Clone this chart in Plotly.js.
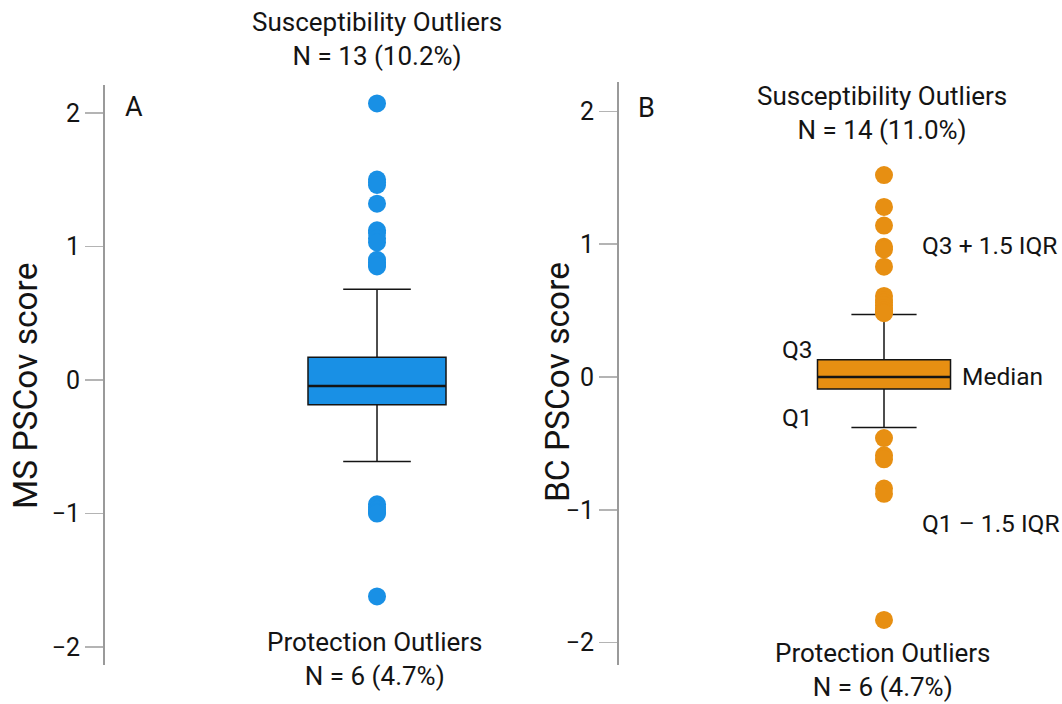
<!DOCTYPE html>
<html>
<head>
<meta charset="utf-8">
<script src="https://cdn.plot.ly/plotly-3.0.1.min.js"></script>
<style>
  html, body { margin: 0; padding: 0; background: #ffffff; }
  #chart { width: 1062px; height: 704px; }
</style>
</head>
<body>
<div id="chart"></div>
<script>
// Sample size shared by both scores
const N_TOTAL = 127;

// MS PSCov score: box summary and outliers
const msQuartiles = [-0.185, -0.045, 0.17];   // Q1, median, Q3
const msFences = [-0.61, 0.68];               // Q1 - 1.5 IQR, Q3 + 1.5 IQR
const msHigh = [2.07, 1.50, 1.48, 1.46, 1.32, 1.12, 1.10, 1.06, 1.03, 0.90, 0.88, 0.86, 0.85];
const msLow = [-0.93, -0.95, -0.97, -0.99, -1.00, -1.62];

// BC PSCov score: box summary and outliers
const bcQuartiles = [-0.09, 0.00, 0.13];
const bcFences = [-0.38, 0.47];
const bcHigh = [1.52, 1.28, 1.14, 0.98, 0.96, 0.83, 0.61, 0.58, 0.56, 0.54, 0.52, 0.50, 0.49, 0.48];
const bcLow = [-0.46, -0.59, -0.62, -0.84, -0.88, -1.83];

const yTicks = [-2, -1, 0, 1, 2];
const panelLetters = ['A', 'B'];
const axisTitles = ['MS PSCov score', 'BC PSCov score'];

const BLUE = '#1990e5';
const ORANGE = '#e78f12';
const INK = '#141414';
const FONT = 'Roboto, "Noto Sans", sans-serif';
const W = 1062, H = 704;
const BOX_W = 1;

const px = v => v / W;
const py = v => 1 - v / H;
const font = (size) => ({ family: FONT, size: size, color: INK });

function boxTrace(q, f, color, xa, ya) {
  return {
    type: 'box', x: [0], q1: [q[0]], median: [q[1]], q3: [q[2]],
    lowerfence: [f[0]], upperfence: [f[1]],
    width: BOX_W, whiskerwidth: 0.49, boxpoints: false,
    fillcolor: color, line: { color: INK, width: 1.5 },
    xaxis: xa, yaxis: ya, hoverinfo: 'skip', showlegend: false
  };
}

function outlierTrace(vals, color, xa, ya) {
  return {
    type: 'scatter', mode: 'markers',
    x: vals.map(() => 0), y: vals,
    marker: { size: 18, color: color, line: { width: 0 } },
    xaxis: xa, yaxis: ya, hoverinfo: 'y', showlegend: false
  };
}

const data = [
  boxTrace(msQuartiles, msFences, BLUE, 'x', 'y'),
  outlierTrace(msHigh.concat(msLow), BLUE, 'x', 'y'),
  boxTrace(bcQuartiles, bcFences, ORANGE, 'x2', 'y2'),
  outlierTrace(bcHigh.concat(bcLow), ORANGE, 'x2', 'y2')
];

function countText(label, arr) {
  return label + '<br>N = ' + arr.length + ' (' + (100 * arr.length / N_TOTAL).toFixed(1) + '%)';
}

const yAxisBase = {
  showline: true, linecolor: '#9a9a9a', linewidth: 2,
  ticks: 'outside', ticklen: 18, tickwidth: 1.5, tickcolor: '#b4b4b4',
  tickvals: yTicks, ticktext: yTicks.map(v => v < 0 ? '\u2212' + Math.abs(v) : String(v)),
  tickfont: font(25),
  showgrid: false, zeroline: false, fixedrange: true
};
const xAxisBase = {
  type: 'linear', showline: false, showticklabels: false, ticks: '',
  showgrid: false, zeroline: false, fixedrange: true
};

function note(text, x, y, opts) {
  return Object.assign({
    text: text, xref: 'paper', yref: 'paper', x: px(x), y: py(y),
    xanchor: 'center', yanchor: 'middle', showarrow: false,
    font: font(24.5)
  }, opts || {});
}

const layout = {
  width: W, height: H,
  margin: { l: 0, r: 0, t: 0, b: 0 },
  paper_bgcolor: '#ffffff', plot_bgcolor: 'rgba(0,0,0,0)',
  showlegend: false,
  xaxis: Object.assign({}, xAxisBase, { domain: [px(105), px(560)], range: [-1.971, 1.326] }),
  yaxis: Object.assign({}, yAxisBase, { anchor: 'x', domain: [py(665), py(85)], range: [-2.133, 2.208] }),
  xaxis2: Object.assign({}, xAxisBase, { domain: [px(619), 1], range: [-1.992, 1.338] }),
  yaxis2: Object.assign({}, yAxisBase, { anchor: 'x2', domain: [py(665), py(82)], range: [-2.169, 2.221] }),
  shapes: [
    { type: 'line', xref: 'x', yref: 'y', x0: -BOX_W / 2, x1: BOX_W / 2,
      y0: msQuartiles[1], y1: msQuartiles[1], line: { color: INK, width: 2.6 } },
    { type: 'line', xref: 'x2', yref: 'y2', x0: -BOX_W / 2, x1: BOX_W / 2,
      y0: bcQuartiles[1], y1: bcQuartiles[1], line: { color: INK, width: 2.6 } }
  ],
  annotations: [
    note(panelLetters[0], 134, 107, { font: font(27) }),
    note(panelLetters[1], 646, 108, { font: font(27) }),
    note(axisTitles[0], 25, 386, { textangle: -90, font: font(33.5) }),
    note(axisTitles[1], 557, 382, { textangle: -90, font: font(33.5) }),
    note(countText('Susceptibility Outliers', msHigh), 377, 38.5, { font: font(26) }),
    note(countText('Protection Outliers', msLow), 375, 659, { font: font(26) }),
    note(countText('Susceptibility Outliers', bcHigh), 882, 113, { font: font(26) }),
    note(countText('Protection Outliers', bcLow), 883, 670, { font: font(26) }),
    note('Q3 + 1.5 IQR', 920, 245, { xanchor: 'left' }),
    note('Median', 960, 376, { xanchor: 'left' }),
    note('Q3', 815, 350, { xanchor: 'right' }),
    note('Q1', 815, 417, { xanchor: 'right' }),
    note('Q1 \u2013 1.5 IQR', 920, 523, { xanchor: 'left' })
  ]
};

Plotly.newPlot('chart', data, layout, { displayModeBar: false, staticPlot: true });
</script>
</body>
</html>
